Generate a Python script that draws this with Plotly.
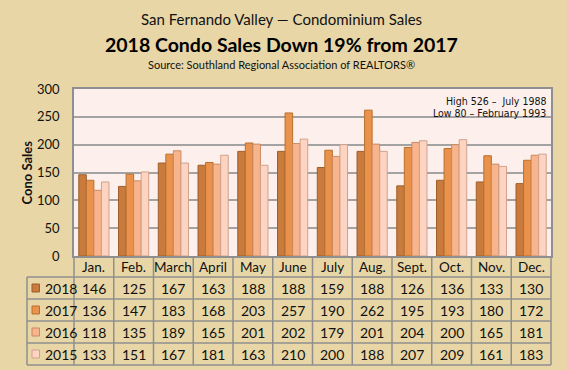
import plotly.graph_objects as go

months = ["Jan.", "Feb.", "March", "April", "May", "June", "July", "Aug.", "Sept.", "Oct.", "Nov.", "Dec."]
years = ["2018", "2017", "2016", "2015"]
sales_2018 = [146, 125, 167, 163, 188, 188, 159, 188, 126, 136, 133, 130]
sales_2017 = [136, 147, 183, 168, 203, 257, 190, 262, 195, 193, 180, 172]
sales_2016 = [118, 135, 189, 165, 201, 202, 179, 201, 204, 200, 165, 181]
sales_2015 = [133, 151, 167, 181, 163, 210, 200, 188, 207, 209, 161, 183]
y_ticks = [0, 50, 100, 150, 200, 250, 300]

series = [sales_2018, sales_2017, sales_2016, sales_2015]
fill_colors = ["#C97B3D", "#EA914B", "#F8B48C", "#FDD3C2"]
line_colors = ["#9E5E2C", "#B5702F", "#C98A62", "#CFA28C"]

W, H = 567, 370
L, R, T, B = 74, 551, 89, 256
BG = "#E8D6A6"
GRID = "#A3A3A3"
FONT = "Lato"
NARROW = "DejaVu Sans Condensed, Liberation Sans, sans-serif"

def px(x):
    return (x - L) / (R - L)

def py(y):
    return (B - y) / (B - T)

fig = go.Figure()
for yr, vals, fc, lc in zip(years, series, fill_colors, line_colors):
    fig.add_trace(go.Bar(
        x=months, y=vals, name=yr,
        marker=dict(color=fc, line=dict(color=lc, width=1)),
        showlegend=False, hoverinfo="skip",
    ))

shapes = []
annotations = []

# Table geometry
row_tops = [277, 299, 321, 343, 365]
tab_left = 27
line_style = dict(color="#8F8F8F", width=1.5)
for yy in row_tops:
    shapes.append(dict(type="line", xref="paper", yref="paper",
                       x0=px(tab_left), x1=1, y0=py(yy), y1=py(yy), line=line_style))
shapes.append(dict(type="line", xref="paper", yref="paper",
                   x0=px(tab_left), x1=px(tab_left), y0=py(277), y1=py(365), line=line_style))
for i in range(len(months) + 1):
    xv = i / len(months)
    shapes.append(dict(type="line", xref="paper", yref="paper",
                       x0=xv, x1=xv, y0=0, y1=py(365), line=line_style))

# Header labels
for m in months:
    annotations.append(dict(x=m, xref="x", y=py(267), yref="paper", text=m,
                            showarrow=False, font=dict(family=FONT, size=13.5, color="#111"),
                            xanchor="center", yanchor="middle"))

# Row values and legend keys
for r, (yr, vals, fc, lc) in enumerate(zip(years, series, fill_colors, line_colors)):
    cy = (row_tops[r] + row_tops[r + 1]) / 2
    shapes.append(dict(type="rect", xref="paper", yref="paper",
                       x0=px(32), x1=px(39.5), y0=py(cy - 4), y1=py(cy + 4),
                       fillcolor=fc, line=dict(color=lc, width=1)))
    annotations.append(dict(x=px(42.5), xref="paper", y=py(cy), yref="paper", text=yr,
                            showarrow=False, font=dict(family=FONT, size=14, color="#111"),
                            xanchor="left", yanchor="middle"))
    for m, v in zip(months, vals):
        annotations.append(dict(x=m, xref="x", y=py(cy), yref="paper", text=str(v),
                                showarrow=False, font=dict(family=FONT, size=14, color="#111"),
                                xanchor="center", yanchor="middle"))

# Titles
annotations += [
    dict(x=px(281), xref="paper", y=py(19), yref="paper", text="San Fernando Valley \u2014 Condominium Sales",
         showarrow=False, font=dict(family=FONT, size=15, color="#111"), xanchor="center", yanchor="middle"),
    dict(x=px(281), xref="paper", y=py(45), yref="paper", text="<b>2018 Condo Sales Down 19% from 2017</b>",
         showarrow=False, font=dict(family=FONT, size=19.5, color="#000"), xanchor="center", yanchor="middle"),
    dict(x=px(281), xref="paper", y=py(64), yref="paper", text="Source: Southland Regional Association of REALTORS\u00ae",
         showarrow=False, font=dict(family=FONT, size=11, color="#111"), xanchor="center", yanchor="middle"),
    dict(x=px(548), xref="paper", y=py(100.5), yref="paper", text="High 526 \u2013  July 1988",
         showarrow=False, font=dict(family=NARROW, size=10.5, color="#111"),
         xanchor="right", yanchor="middle"),
    dict(x=px(548), xref="paper", y=py(112.5), yref="paper", text="Low 80 \u2013 February 1993",
         showarrow=False, font=dict(family=NARROW, size=10.5, color="#111"),
         xanchor="right", yanchor="middle"),
    dict(x=px(26), xref="paper", y=0.5, yref="paper", text="<b>Cono Sales</b>", textangle=-90,
         showarrow=False, font=dict(family=FONT, size=13, color="#111"), xanchor="center", yanchor="middle"),
]

fig.update_layout(
    width=W, height=H,
    margin=dict(l=L, r=W - R, t=T, b=H - B, pad=0),
    paper_bgcolor=BG, plot_bgcolor="#FDF0EC",
    barmode="group", bargap=0.24, bargroupgap=0,
    shapes=shapes, annotations=annotations,
    font=dict(family=FONT, color="#111"),
)
fig.update_xaxes(showticklabels=False, showgrid=False, showline=True, linecolor="#8F8F8F",
                 linewidth=1.5, mirror=True, ticks="", range=[-0.5, 11.5])
fig.update_yaxes(range=[0, 300], tickvals=y_ticks, showgrid=True, gridcolor=GRID, gridwidth=1.5,
                 showline=True, linecolor="#8F8F8F", linewidth=1.5, mirror=True, zeroline=False,
                 tickfont=dict(family=FONT, size=13, color="#111"), ticks="outside", ticklen=0,
                 ticklabelstandoff=10)

fig.write_html("out.html", config={"displayModeBar": False},
               post_script="document.body.style.margin='0';")
